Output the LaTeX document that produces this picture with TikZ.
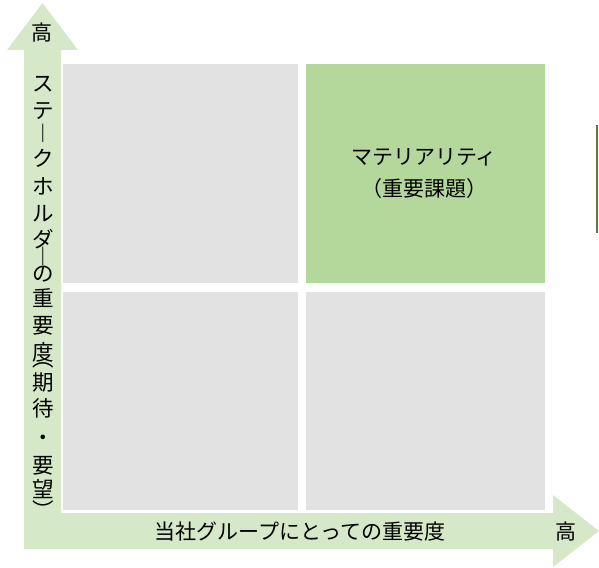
\documentclass[tikz,border=0pt]{standalone}
\usepackage{fontspec}
\setmainfont{Noto Sans CJK JP}
\definecolor{arrowgreen}{HTML}{D5E8C8}
\definecolor{cellgreen}{HTML}{B4D79B}
\definecolor{cellgrey}{HTML}{E2E2E2}
\definecolor{darkgreen}{HTML}{548235}
\begin{document}
\begin{tikzpicture}[x=1pt,y=-1pt,
  cell/.style={draw=white, line width=0.8pt, fill=cellgrey, anchor=north west, inner sep=0pt},
  lbl/.style={font=\fontsize{21}{25}\selectfont, inner sep=0pt, text=black},
  vch/.style={font=\fontsize{21.5}{22}\selectfont, inner sep=0pt, text=black, anchor=base}]
\useasboundingbox (0,0) rectangle (599,567);
% arrows
\fill[arrowgreen] (42.5,3) -- (78,50) -- (61,50) -- (61,513) -- (553,513) -- (553,495)
  -- (599,531) -- (553,567) -- (553,549) -- (24,549) -- (24,50) -- (7,50) -- cycle;
% cells
\node[cell, minimum width=236pt, minimum height=220pt] (tl) at (62,63) {};
\node[cell, fill=cellgreen, minimum width=240pt, minimum height=220pt] (tr) at (305,63) {};
\node[cell, minimum width=236pt, minimum height=219pt] (bl) at (62,291) {};
\node[cell, minimum width=240pt, minimum height=219pt] (br) at (305,291) {};
% texts
\node[lbl, align=center, font=\fontsize{21}{32}\selectfont] (mat) at (424,174) {マテリアリティ\\（重要課題）};
\node[lbl] (xlab) at (300,532) {当社グループにとっての重要度};
\node[lbl] (xhigh) at (566,532) {高};
\node[lbl] (yhigh) at (42,33) {高};
% vertical label, one character per node (y = baseline = centre + 8)
\foreach \ch/\yy [count=\i] in {ス/84, テ/110, ︱/133, ク/158, ホ/186, ル/213, ダ/239,
   ︱/256, の/273, 重/298, 要/325, 度/352, ︵/358, 期/382, 待/408, ・/437,
   要/465, 望/489, ︶/510}
  \node[vch] (v\i) at (43,\yy+8) {\ch};
% small mark
\coordinate (m1) at (597,125);
\coordinate (m2) at (597,233);
\draw[darkgreen, line width=2pt] (m1) -- (m2);
\end{tikzpicture}
\end{document}
